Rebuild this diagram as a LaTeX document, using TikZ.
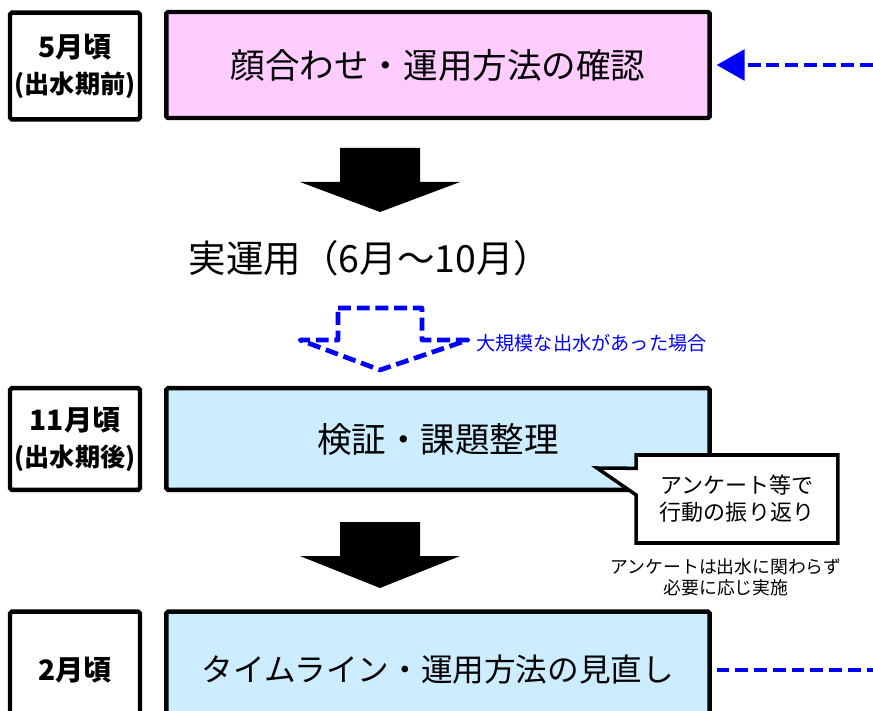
\documentclass[tikz,border=0pt]{standalone}
\usepackage{fontspec}
\setmainfont{Noto Sans CJK JP}
\usetikzlibrary{arrows.meta,shapes.callouts}
\definecolor{pinkfill}{RGB}{255,204,255}
\definecolor{bluefill}{RGB}{204,236,255}
\definecolor{flowblue}{RGB}{0,0,255}
\tikzset{
  monthbox/.style={draw,line width=3.8pt,fill=white,rounded corners=1.5pt,
    minimum width=3.9cm,align=center,font=\bfseries},
  stepbox/.style={draw,line width=3.8pt,rounded corners=1.5pt,minimum width=16.3cm,
    font=\fontsize{29.5}{34}\selectfont},
  bluedash/.style={flowblue,line width=4pt,dash pattern=on 11pt off 5pt},
}
\newcommand{\bigfont}{\fontsize{24}{30}\selectfont}
\newcommand{\midfont}{\fontsize{21.5}{30}\selectfont}
\begin{document}
\begin{tikzpicture}[x=0.03cm,y=-0.03cm,line join=miter]
  \useasboundingbox (0,0) rectangle (873,711);
  \clip (0,0) rectangle (873,711);

  % 5月 - 出水期前
  \node[monthbox,minimum height=3.2cm] (may) at (75,66)
    {{\bigfont 5月頃}\\[9pt]{\midfont (出水期前)}};
  \node[stepbox,fill=pinkfill,minimum height=3.18cm] (check) at (438,65)
    {顔合わせ・運用方法の確認};
  \coordinate (backin) at (873,65);
  \draw[bluedash,-{Triangle[length=24pt,width=26pt]},shorten >=4pt] (backin) -- (check.east);

  % 黒矢印 1
  \fill (340,148) -- (420,148) -- (420,182) -- (460,182) -- (380,212)
    -- (300,182) -- (340,182) -- cycle;

  % 実運用
  \node[font=\fontsize{32}{36}\selectfont] (run) at (370,258) {実運用（6月～10月）};

  % 大規模出水時の点線矢印
  \draw[bluedash,line join=round] (338,308) -- (422,308) -- (422,340) -- (468,340)
    -- (380,370) -- (300,340) -- (338,340) -- cycle;
  \node[anchor=west,text=flowblue,font=\fontsize{16.4}{19}\selectfont] (flood) at (472,343)
    {大規模な出水があった場合};

  % 11月 - 出水期後
  \node[monthbox,minimum height=3.05cm] (nov) at (75,439)
    {{\bigfont 11月頃}\\[9pt]{\midfont (出水期後)}};
  \node[stepbox,fill=bluefill,minimum height=3.05cm] (review) at (438,439)
    {検証・課題整理};

  % 吹き出し
  \node[rectangle callout,draw,fill=white,line width=3pt,callout absolute pointer={(597,468)},
    callout pointer width=0.8cm,minimum width=6.05cm,minimum height=2.64cm,align=center,
    font=\fontsize{18.8}{23}\selectfont] (survey) at (737,499)
    {アンケート等で\\行動の振り返り};
  \node[align=center,font=\fontsize{15.2}{18}\selectfont] (note) at (726,577)
    {アンケートは出水に関わらず\\必要に応じ実施};

  % 黒矢印 2
  \fill (340,522) -- (420,522) -- (420,556) -- (460,556) -- (380,588)
    -- (300,556) -- (340,556) -- cycle;

  % 2月
  \node[monthbox,minimum height=3.5cm] (feb) at (75,670) {\bigfont 2月頃};
  \node[stepbox,fill=bluefill,minimum height=3.5cm,font=\fontsize{27}{32}\selectfont]
    (revise) at (438,670) {タイムライン・運用方法の見直し};
  \coordinate (backout) at (873,670);
  \draw[bluedash,shorten <=4pt] (revise.east) -- (backout);
\end{tikzpicture}
\end{document}
